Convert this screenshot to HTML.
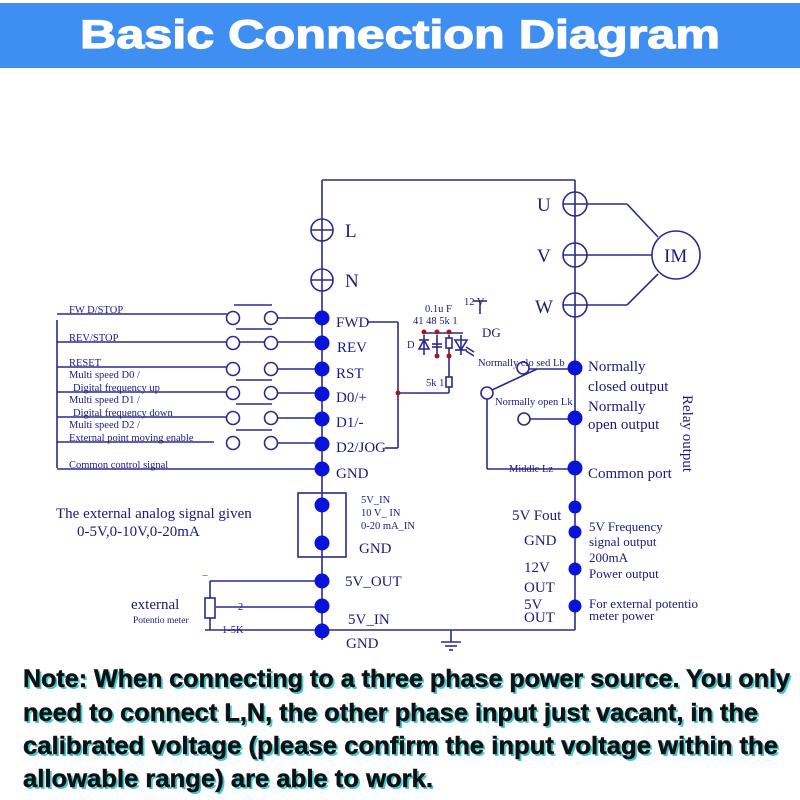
<!DOCTYPE html>
<html><head><meta charset="utf-8"><style>
html,body{margin:0;padding:0;background:#fff;width:800px;height:800px;overflow:hidden}
svg{display:block}
.s{font-family:"Liberation Serif",serif;fill:#1a1a80}
.n{font-family:"Liberation Sans",sans-serif;font-weight:bold}
</style></head><body>
<svg width="800" height="800" viewBox="0 0 800 800" xmlns="http://www.w3.org/2000/svg">
<rect x="0" y="3" width="800" height="65" fill="#3f8ff2"/>
<text x="400" y="48" text-anchor="middle" class="n" font-size="40" fill="#fff" stroke="#fff" stroke-width="1.2" textLength="640" lengthAdjust="spacingAndGlyphs">Basic Connection Diagram</text>

<g stroke="#2a2a90" stroke-width="1.6" fill="none">
<line x1="322" y1="180" x2="575" y2="180"/>
<line x1="322" y1="180" x2="322" y2="640"/>
<line x1="575" y1="180" x2="575" y2="630"/>
<line x1="205" y1="630" x2="575" y2="630"/>
<circle cx="322" cy="230" r="11"/><line x1="311" y1="230" x2="333" y2="230"/>
<circle cx="322" cy="280" r="11"/><line x1="311" y1="280" x2="333" y2="280"/>
<circle cx="575" cy="204" r="12"/><line x1="563" y1="204" x2="627" y2="204"/><line x1="627" y1="204" x2="658" y2="237"/>
<circle cx="575" cy="255" r="12"/><line x1="563" y1="255" x2="652" y2="255"/>
<circle cx="575" cy="305" r="12"/><line x1="563" y1="305" x2="627" y2="305"/><line x1="627" y1="305" x2="658" y2="274"/>
<circle cx="676" cy="255" r="24"/>
<line x1="57" y1="320" x2="57" y2="468"/>
<line x1="57" y1="314" x2="227" y2="314"/><line x1="234" y1="305" x2="272" y2="305"/>
<line x1="57" y1="342" x2="322" y2="342"/>
<line x1="57" y1="367" x2="227" y2="367"/>
<line x1="57" y1="392" x2="227" y2="392"/>
<line x1="57" y1="417" x2="227" y2="417"/>
<line x1="57" y1="442" x2="214" y2="442"/>
<line x1="57" y1="469" x2="322" y2="469"/>
<line x1="236" y1="329" x2="272" y2="329"/>
<line x1="236" y1="380" x2="272" y2="380"/>
<line x1="236" y1="404" x2="272" y2="404"/>
<line x1="236" y1="430" x2="272" y2="430"/>
<g fill="#fff">
<circle cx="233" cy="318" r="6.5"/><circle cx="271" cy="318" r="6.5"/>
<circle cx="233" cy="343" r="6.5"/><circle cx="271" cy="343" r="6.5"/>
<circle cx="233" cy="369" r="6.5"/><circle cx="271" cy="369" r="6.5"/>
<circle cx="233" cy="393" r="6.5"/><circle cx="271" cy="393" r="6.5"/>
<circle cx="233" cy="418" r="6.5"/><circle cx="271" cy="418" r="6.5"/>
<circle cx="233" cy="443" r="6.5"/><circle cx="271" cy="443" r="6.5"/>
</g>
<line x1="277" y1="318" x2="322" y2="318"/>
<line x1="277" y1="369" x2="322" y2="369"/>
<line x1="277" y1="393" x2="322" y2="393"/>
<line x1="277" y1="418" x2="322" y2="418"/>
<line x1="277" y1="443" x2="322" y2="443"/>
<line x1="368" y1="322" x2="398" y2="322"/><line x1="398" y1="322" x2="398" y2="448"/><line x1="385" y1="448" x2="398" y2="448"/>
<line x1="398" y1="393" x2="449" y2="393"/><line x1="449" y1="393" x2="449" y2="356"/>
<rect x="446" y="377" width="6" height="10" fill="#fff"/>
<line x1="424" y1="333" x2="463" y2="333"/>
<line x1="424" y1="335" x2="424" y2="355"/><line x1="437" y1="335" x2="437" y2="355"/><line x1="449" y1="335" x2="449" y2="356"/><line x1="461" y1="335" x2="461" y2="355"/>
<polygon points="419,349 429,349 424,340" /><line x1="419" y1="340" x2="429" y2="340"/>
<line x1="432" y1="344" x2="442" y2="344"/><line x1="432" y1="347" x2="442" y2="347"/>
<rect x="446" y="338" width="6" height="10" fill="#fff"/>
<polygon points="455,340 467,340 461,350"/><line x1="455" y1="350" x2="467" y2="350"/>
<line x1="466" y1="347" x2="474" y2="352"/><line x1="466" y1="351" x2="474" y2="356"/>
<line x1="473" y1="301" x2="487" y2="301"/><line x1="480" y1="301" x2="480" y2="314"/>
<line x1="529" y1="369" x2="575" y2="369"/>
<circle cx="523" cy="368" r="6" fill="#fff"/>
<circle cx="487" cy="393" r="6" fill="#fff"/>
<line x1="492" y1="390" x2="537" y2="369"/>
<line x1="487" y1="399" x2="487" y2="469"/><line x1="487" y1="469" x2="575" y2="469"/>
<circle cx="524" cy="419" r="6" fill="#fff"/><line x1="530" y1="419" x2="575" y2="419"/>
<rect x="298" y="493" width="48" height="64"/>
<line x1="210" y1="581" x2="322" y2="581"/><line x1="210" y1="581" x2="210" y2="630"/>
<rect x="205" y="598" width="10" height="20" fill="#fff"/>
<line x1="216" y1="607" x2="322" y2="607"/>
<line x1="451" y1="630" x2="451" y2="642"/><line x1="441" y1="642" x2="461" y2="642"/><line x1="445" y1="646" x2="457" y2="646"/><line x1="449" y1="650" x2="453" y2="650"/>
</g>
<g fill="#a01818">
<circle cx="398" cy="393" r="2.5"/>
<circle cx="424" cy="332" r="2.5"/><circle cx="437" cy="332" r="2.5"/><circle cx="449" cy="332" r="2.5"/>
<circle cx="437" cy="356" r="2.5"/><circle cx="449" cy="356" r="2.5"/>
</g>
<g fill="#0a14d8">
<circle cx="322" cy="318" r="7.5"/><circle cx="322" cy="343" r="7.5"/><circle cx="322" cy="369" r="7.5"/><circle cx="322" cy="394" r="7.5"/><circle cx="322" cy="419" r="7.5"/><circle cx="322" cy="444" r="7.5"/><circle cx="322" cy="469" r="7.5"/>
<circle cx="322" cy="505" r="7.5"/><circle cx="322" cy="543" r="7.5"/><circle cx="322" cy="581" r="7.5"/><circle cx="322" cy="606" r="7.5"/><circle cx="322" cy="631" r="7.5"/>
<circle cx="575" cy="368" r="7.5"/><circle cx="575" cy="418" r="7.5"/><circle cx="575" cy="468" r="7.5"/>
<circle cx="575" cy="507" r="6.5"/><circle cx="575" cy="532" r="6.5"/><circle cx="575" cy="569" r="6.5"/><circle cx="575" cy="606" r="6.5"/>
</g>

<g class="s">
<text x="345" y="237" font-size="19">L</text>
<text x="345" y="287" font-size="19">N</text>
<text x="537" y="211" font-size="19">U</text>
<text x="537" y="262" font-size="19">V</text>
<text x="535" y="313" font-size="19">W</text>
<text x="664" y="262" font-size="19">IM</text>
<g font-size="15">
<text x="336" y="327">FWD</text><text x="337" y="352">REV</text><text x="336" y="378">RST</text><text x="336" y="402">D0/+</text><text x="336" y="427">D1/-</text><text x="336" y="452">D2/JOG</text><text x="336" y="478">GND</text>
<text x="588" y="371">Normally</text><text x="588" y="391">closed output</text><text x="588" y="411">Normally</text><text x="588" y="429">open output</text><text x="588" y="478">Common port</text>
<text x="345" y="586">5V_OUT</text><text x="348" y="624">5V_IN</text><text x="346" y="648">GND</text>
<text x="359" y="553">GND</text>
<text x="56" y="518">The external analog signal given</text>
<text x="77" y="536">0-5V,0-10V,0-20mA</text>
<text x="131" y="609">external</text>
<text x="512" y="520">5V Fout</text><text x="524" y="545">GND</text>
<text x="524" y="572">12V</text><text x="524" y="592">OUT</text><text x="524" y="609">5V</text><text x="524" y="622">OUT</text>
</g>
<g font-size="13">
<text x="589" y="531">5V Frequency</text><text x="589" y="546">signal output</text><text x="589" y="562">200mA</text><text x="589" y="578">Power output</text>
<text x="589" y="608">For external potentio</text><text x="589" y="620">meter power</text>
<text x="482" y="337">DG</text>
<text transform="translate(683,395) rotate(90)" font-size="15">Relay output</text>
</g>
<g font-size="10.5">
<text x="69" y="313">FW D/STOP</text><text x="69" y="341">REV/STOP</text><text x="69" y="366">RESET</text>
<text x="69" y="378">Multi speed  D0  /</text><text x="73" y="391">Digital  frequency up</text>
<text x="69" y="403">Multi speed  D1  /</text><text x="73" y="416">Digital  frequency down</text>
<text x="69" y="428">Multi speed  D2  /</text><text x="69" y="441">External point moving enable</text>
<text x="69" y="468">Common control signal</text>
<text x="361" y="503">5V_IN</text><text x="361" y="516">10 V_ IN</text><text x="361" y="529">0-20 mA_IN</text>
<text x="133" y="623" font-size="9.5">Potentio meter</text>
<text x="222" y="633">1-5K</text><text x="238" y="610">2</text><text x="202" y="579">−</text>
<text x="425" y="312">0.1u F</text><text x="464" y="305">12 V</text>
<text x="413" y="324">41  48 5k  1</text><text x="407" y="348">D</text><text x="426" y="386">5k  1</text>
<text x="478" y="366">Normally clo sed Lb</text><text x="495" y="405">Normally open Lk</text><text x="509" y="472">Middle Lz</text>
</g>
</g>

<g class="n" font-size="25">
<g fill="#3ec8d0" transform="translate(2,2)">
<text x="23" y="687" textLength="767" lengthAdjust="spacingAndGlyphs">Note: When connecting to a three phase power source. You only</text>
<text x="23" y="721" textLength="735" lengthAdjust="spacingAndGlyphs">need to connect L,N, the other phase input just vacant, in the</text>
<text x="23" y="754" textLength="755" lengthAdjust="spacingAndGlyphs">calibrated voltage (please confirm the input voltage within the</text>
<text x="23" y="787" textLength="410" lengthAdjust="spacingAndGlyphs">allowable range) are able to work.</text>
</g>
<g fill="#111" stroke="#111" stroke-width="0.5">
<text x="23" y="687" textLength="767" lengthAdjust="spacingAndGlyphs">Note: When connecting to a three phase power source. You only</text>
<text x="23" y="721" textLength="735" lengthAdjust="spacingAndGlyphs">need to connect L,N, the other phase input just vacant, in the</text>
<text x="23" y="754" textLength="755" lengthAdjust="spacingAndGlyphs">calibrated voltage (please confirm the input voltage within the</text>
<text x="23" y="787" textLength="410" lengthAdjust="spacingAndGlyphs">allowable range) are able to work.</text>
</g>
</g>
</svg>
</body></html>
